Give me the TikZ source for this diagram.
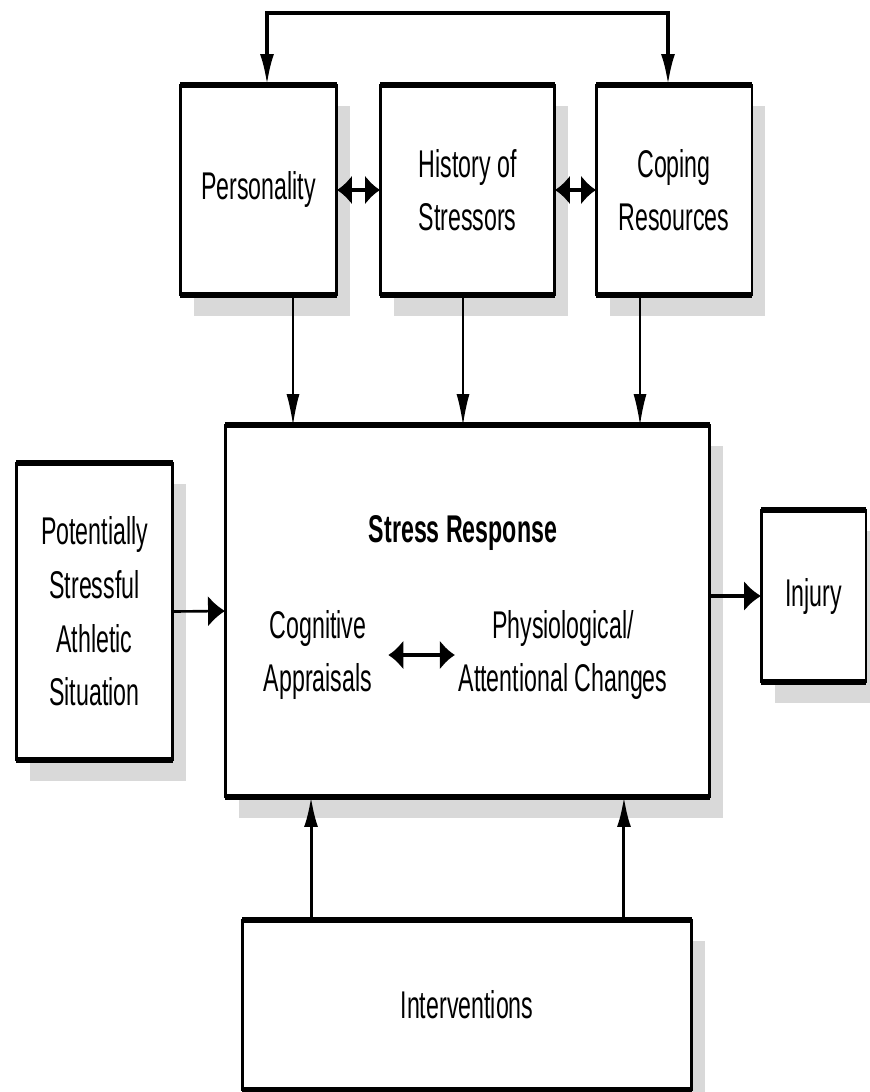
\documentclass[tikz,border=0pt]{standalone}
\usepackage{fontspec}
\setmainfont{Liberation Sans}[FakeStretch=0.6]
\usetikzlibrary{arrows.meta, positioning, shadows, calc}

\begin{document}
\begin{tikzpicture}[x=0.02cm, y=-0.02cm,
  every node/.style={align=center, font=\fontsize{22}{30.5}\selectfont},
  box/.style={draw, line width=1.7pt, outer sep=0pt, fill=white, drop shadow={shadow xshift=0.27cm, shadow yshift=-0.42cm, fill=gray!30, opacity=1}},
  vthin/.style={line width=0.8pt, -{Latex[length=0.62cm, width=0.26cm]}},
  vthick/.style={line width=1.7pt, -{Latex[length=0.6cm, width=0.28cm]}},
  hthick/.style={line width=2.6pt, -{Latex[length=0.34cm, width=0.62cm]}},
  hboth/.style={line width=2.6pt, {Latex[length=0.3cm, width=0.6cm]}-{Latex[length=0.3cm, width=0.6cm]}}]

  \useasboundingbox (0,0) rectangle (869,1092);

  % Top row
  \node[box, minimum width=3.14cm, minimum height=4.2cm] (pers)  at (258.5,190) {Personality};
  \node[box, minimum width=3.5cm,  minimum height=4.2cm] (hist)  at (467.5,190) {History of\\Stressors};
  \node[box, minimum width=3.12cm, minimum height=4.2cm] (cope)  at (674,190)   {Coping\\Resources};

  % Middle row
  \node[box, minimum width=3.14cm, minimum height=5.94cm] (sit)    at (94.5,611.5) {Potentially\\Stressful\\Athletic\\Situation};
  \node[box, minimum width=9.7cm,  minimum height=7.44cm] (stress) at (467.5,611)  {};
  \node[box, minimum width=2.1cm,  minimum height=3.44cm] (inj)    at (813.5,596)  {Injury};

  % Bottom
  \node[box, minimum width=9.0cm, minimum height=3.4cm] (interv) at (467,1005) {Interventions};

  % Thicker top and bottom edges
  \foreach \n in {pers,hist,cope,sit,stress,inj,interv}
    \draw[line width=3pt] (\n.north west) -- (\n.north east) (\n.south west) -- (\n.south east);

  % Inside the stress response
  \node (sr)   at (463,533) {\bfseries Stress Response};
  \node (cog)  at (318,655) {Cognitive\\Appraisals};
  \node (phys) at (563,655) {Physiological/\\Attentional Changes};

  % Arrows
  \coordinate (topL) at (267,13);
  \coordinate (topR) at (668,13);
  \draw[line width=2pt, {Latex[length=0.62cm, width=0.28cm]}-{Latex[length=0.62cm, width=0.28cm]}]
    (topL |- pers.north) -- (topL) -- (topR) -- (topR |- cope.north);
  \draw[hboth] (pers.east) -- (hist.west);
  \draw[hboth] (hist.east) -- (cope.west);
  \draw[vthin] ([xshift=0.69cm]pers.south) -- ([xshift=0.69cm]pers.south |- stress.north);
  \draw[vthin] ([xshift=-0.09cm]hist.south) -- ([xshift=-0.09cm]hist.south |- stress.north);
  \draw[vthin] ([xshift=-0.68cm]cope.south) -- ([xshift=-0.68cm]cope.south |- stress.north);
  \draw[line width=1.5pt, -{Latex[length=0.34cm, width=0.62cm]}] (sit.east) -- (stress.west);
  \draw[hthick] (stress.east |- inj) -- (inj.west);
  \draw[hboth] ([xshift=0.2cm]cog.east) -- ([xshift=0.05cm]phys.west);
  \draw[vthick] ([xshift=-3.12cm]interv.north) -- ([xshift=-3.12cm]interv.north |- stress.south);
  \draw[vthick] ([xshift=3.14cm]interv.north) -- ([xshift=3.14cm]interv.north |- stress.south);
\end{tikzpicture}
\end{document}
